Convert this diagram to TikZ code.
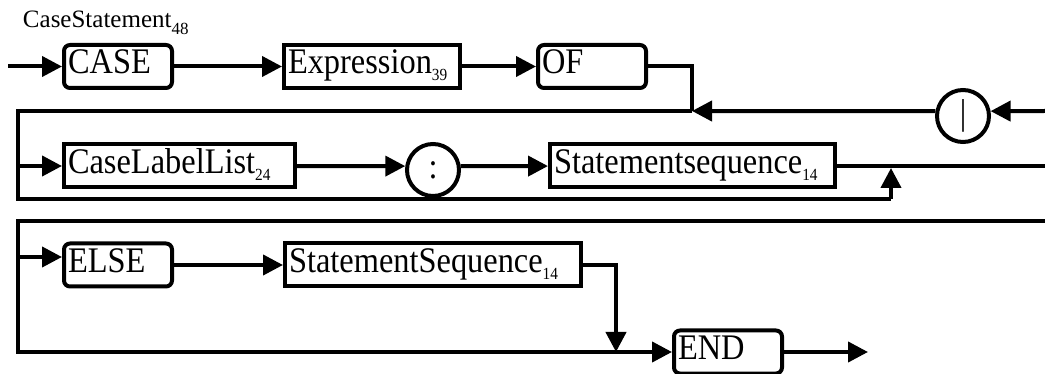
\documentclass[tikz,border=0pt]{standalone}
\usepackage{fontspec}
\setmainfont{Liberation Serif}
\newfontfamily\boxfont[FakeStretch=0.9]{Liberation Serif}
\usetikzlibrary{arrows.meta,positioning}
\newcommand{\idx}[1]{\raisebox{-7pt}{\fontsize{17}{17}\selectfont #1}}

\begin{document}
\begin{tikzpicture}[x=1pt, y=-1pt, line width=4pt,
	flow/.style={-{Triangle[length=20pt,width=20pt]}},
	kw/.style={draw, rounded corners=6pt, inner xsep=4pt, inner ysep=0pt, text height=29pt, text depth=14pt, text width=100pt, align=left, font=\boxfont\fontsize{36}{36}\selectfont},
	nt/.style={draw, inner xsep=4pt, inner ysep=0pt, text height=29pt, text depth=14pt, align=left, font=\boxfont\fontsize{36}{36}\selectfont},
	sym/.style={draw, circle, minimum size=52pt, inner sep=0pt, font=\boxfont\fontsize{36}{36}\selectfont}]
			\useasboundingbox (0,0) rectangle (1045,374);

			\node[anchor=base west, inner sep=0pt, font=\fontsize{25}{25}\selectfont] (title) at (21,28) {CaseStatement\idx{48}};

			\node[kw, anchor=west] (case) at (62,66.5) {CASE};
			\node[nt, text width=168pt, right=108pt of case] (expr) {Expression\idx{39}};
			\node[kw, right=74pt of expr] (of) {OF};
			\node[sym] (bar) at (963,116) {|};

			\node[nt, text width=223pt, anchor=west] (cll) at (62,166) {CaseLabelList\idx{24}};
			\node[sym, right=108pt of cll, yshift=-4pt] (colon) {:};
			\node[nt, text width=277pt, right=251pt of cll] (stmt1) {Statementsequence\idx{14}};

			\node[kw, anchor=west] (else) at (62,265) {ELSE};
			\node[nt, text width=288pt, right=109pt of else] (stmt2) {StatementSequence\idx{14}};
			\node[kw, anchor=west] (end) at (672,352) {END};

			\coordinate (start) at (8,66.5);
			\coordinate (join) at (692,111);
			\coordinate (in1) at (1045,111);
			\coordinate (loop) at (18,111);
			\coordinate (skip) at (891,199);
			\coordinate (out2) at (1045,166);
			\coordinate (in3) at (1045,221);
			\coordinate (loop2) at (18,221);
			\coordinate (elsein) at (18,257);
			\coordinate (drop) at (616,352);
			\coordinate (exit) at (868,352);

			\draw[flow] (start) -- (case);
			\draw[flow] (case) -- (expr);
			\draw[flow] (expr) -- (of);
			\draw (of) -| (join);
			\draw[flow] (in1) -- (bar.10);
			\draw[flow] (bar.170) -- (join);
			\draw (join) -- (loop) |- (skip);
			\draw[flow] (loop) |- (cll);
			\draw[flow] (skip) -- ([yshift=-2pt]skip |- stmt1.east);
			\draw[flow] (cll) -- (colon.172);
			\draw[flow] (colon.8) -- (stmt1);
			\draw (stmt1) -- (out2);

			\draw[flow] (in3) -- (loop2) |- (end);
			\draw[flow] (elsein) -- (elsein -| else.west);
			\draw[flow] (else) -- (stmt2);
			\draw[flow] (stmt2) -| (drop);
			\draw[flow] (end) -- (exit);
		\end{tikzpicture}
\end{document}
